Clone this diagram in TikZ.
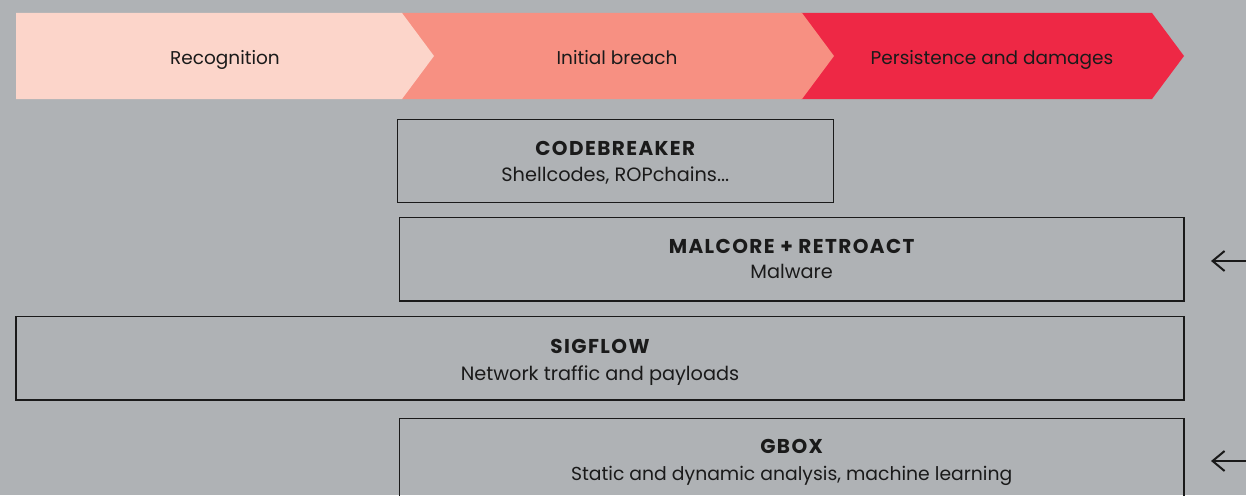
\documentclass[tikz,border=0pt]{standalone}
\usepackage{fontspec}
\setmainfont{Poppins}
\usetikzlibrary{arrows.meta,calc}
\definecolor{bggray}{RGB}{175,178,181}
\definecolor{pinkA}{RGB}{252,213,202}
\definecolor{salmonB}{RGB}{247,144,130}
\definecolor{redC}{RGB}{238,40,69}
\definecolor{inkc}{RGB}{26,26,26}
\tikzset{
  phase/.style={text=inkc, font=\fontsize{18.5}{22}\selectfont, inner sep=0pt, anchor=base},
  toolbox/.style={draw=inkc, line width=1.2pt, inner sep=0pt},
  tooltitle/.style={text=inkc, inner sep=0pt, anchor=base,
    font=\fontsize{20}{24}\selectfont\bfseries\addfontfeatures{LetterSpace=7}},
  toolsub/.style={text=inkc, inner sep=0pt, anchor=base, font=\fontsize{19.3}{23}\selectfont},
  backarrow/.style={draw=inkc, line width=2pt, -{Straight Barb[length=12pt,width=20pt,line width=2pt]}},
}
\begin{document}
\begin{tikzpicture}[x=1pt,y=-1pt]
\fill[bggray] (0,0) rectangle (1246,495);
\useasboundingbox (0,0) rectangle (1246,495);
% chevron band
\fill[redC] (801,13) -- (1152,13) -- (1184,56) -- (1152,99) -- (801,99) -- cycle;
\fill[salmonB] (401,13) -- (802,13) -- (834,56) -- (802,99) -- (401,99) -- cycle;
\fill[pinkA] (16,13) -- (402,13) -- (434,56) -- (402,99) -- (16,99) -- cycle;
\node[phase] (rec) at (225,64) {Recognition};
\node[phase] (ib) at (617,64) {Initial breach};
\node[phase] (pd) at (992,64) {Persistence and damages};
% tool boxes
\node[toolbox, minimum width=436pt, minimum height=83.4pt] (cb) at (615.3,161) {};
\node[toolbox, minimum width=784.7pt, minimum height=83.7pt] (mr) at (791.65,259.2) {};
\node[toolbox, minimum width=1168pt, minimum height=83.7pt] (sf) at (600,358.2) {};
\node[toolbox, minimum width=784.7pt, minimum height=83.7pt] (gb) at (791.65,460.2) {};
% labels
\node[tooltitle] (cbt) at ($(cb.north)+(0,36.6)$) {CODEBREAKER};
\node[toolsub] (cbs) at ($(cb.north)+(0,62.5)$) {Shellcodes, ROPchains...};
\node[tooltitle] (mrt) at ($(mr.north)+(0,36.6)$) {MALCORE + RETROACT};
\node[toolsub] (mrs) at ($(mr.north)+(0,62)$) {Malware};
\node[tooltitle] (sft) at ($(sf.north)+(0,38)$) {SIGFLOW};
\node[toolsub] (sfs) at ($(sf.north)+(0,64.4)$) {Network traffic and payloads};
\node[tooltitle] (gbt) at ($(gb.north)+(0,36.2)$) {GBOX};
\node[toolsub, font=\fontsize{18.8}{23}\selectfont] (gbs) at ($(gb.north)+(0,62.4)$) {Static and dynamic analysis, machine learning};
% arrows
\coordinate (a1s) at (1250,261);
\coordinate (a1e) at (1211,261);
\coordinate (a2s) at (1250,461);
\coordinate (a2e) at (1211,461);
\draw[backarrow] (a1s) -- (a1e);
\draw[backarrow] (a2s) -- (a2e);
\end{tikzpicture}
\end{document}
